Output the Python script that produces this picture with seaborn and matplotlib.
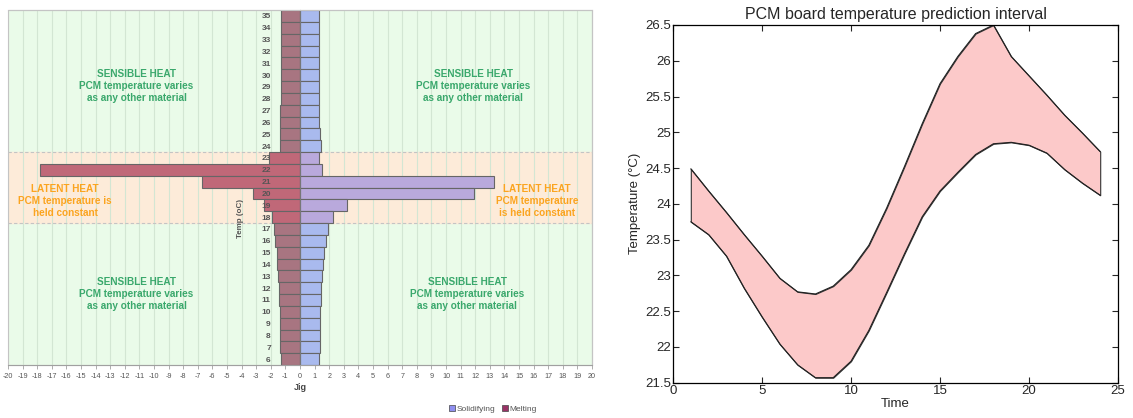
import numpy as np
import pandas as pd
import matplotlib
matplotlib.use("Agg")
import matplotlib.pyplot as plt
from matplotlib.patches import Patch, Rectangle
import seaborn as sns

# ---------------- data ----------------
temps = list(range(35, 5, -1))  # 35 .. 6 (top to bottom)
melting = [-1.33, -1.33, -1.33, -1.33, -1.33, -1.33, -1.33, -1.33,   # 35..28
           -1.38, -1.38, -1.40, -1.40,                               # 27..24
           -2.10, -17.8, -6.7, -3.2, -2.5, -1.9,                     # 23..18
           -1.77, -1.68, -1.60, -1.56, -1.50, -1.47, -1.43, -1.40,   # 17..10
           -1.38, -1.36, -1.36, -1.33]                               # 9..6
solidifying = [1.28, 1.28, 1.28, 1.28, 1.28, 1.28, 1.28, 1.28,       # 35..28
               1.33, 1.33, 1.37, 1.44,                               # 27..24
               1.32, 1.50, 13.3, 11.9, 3.25, 2.25,                   # 23..18
               1.90, 1.76, 1.64, 1.56, 1.50, 1.44, 1.42, 1.39,       # 17..10
               1.37, 1.35, 1.35, 1.33]                               # 9..6
latent_low, latent_high = 18, 23

time = list(range(1, 25))
upper = [24.49, 24.18, 23.88, 23.57, 23.27, 22.96, 22.77, 22.74, 22.85, 23.08,
         23.42, 23.94, 24.52, 25.12, 25.68, 26.06, 26.38, 26.50, 26.06, 25.79,
         25.52, 25.24, 24.99, 24.73]
lower = [23.75, 23.57, 23.27, 22.82, 22.42, 22.04, 21.75, 21.57, 21.57, 21.80,
         22.23, 22.76, 23.30, 23.82, 24.18, 24.44, 24.69, 24.84, 24.86, 24.82,
         24.71, 24.48, 24.29, 24.12]

# ---------------- style ----------------
sns.set_style("white")
plt.rcParams["font.family"] = ["Liberation Sans", "DejaVu Sans"]

fig = plt.figure(figsize=(11.33, 4.18), dpi=100)

# ---------------- left panel ----------------
axL = fig.add_axes([8 / 1133, 53 / 418, 584 / 1133, 355 / 418])
order = [str(t) for t in temps]
df_m = pd.DataFrame({"Temp": order, "Value": melting})
df_s = pd.DataFrame({"Temp": order, "Value": solidifying})

melt_c, melt_lat = "#a87581", "#c06878"
sol_c, sol_lat = "#a9baee", "#b9a9dc"

sns.barplot(data=df_m, x="Value", y="Temp", order=order, orient="h",
            color=melt_c, width=1.0, edgecolor="#666666", linewidth=0.8,
            saturation=1, ax=axL, zorder=2)
sns.barplot(data=df_s, x="Value", y="Temp", order=order, orient="h",
            color=sol_c, width=1.0, edgecolor="#666666", linewidth=0.8,
            saturation=1, ax=axL, zorder=2)

for cont, latc in zip(axL.containers, [melt_lat, sol_lat]):
    for t, bar in zip(temps, cont):
        if latent_low <= t <= latent_high:
            bar.set_facecolor(latc)

def ypos(t):
    return temps[0] - t

axL.set_facecolor("#eafbe9")
axL.axhspan(ypos(latent_high) - 0.5, ypos(latent_low) + 0.5,
            color="#fdebd9", zorder=0)
for yy in (ypos(latent_high) - 0.5, ypos(latent_low) + 0.5):
    axL.axhline(yy, color="#c4c4c4", lw=0.8, ls=(0, (3, 2)), zorder=0.6)

axL.set_xlim(-20, 20)
axL.set_ylim(len(temps) - 0.5, -0.5)
axL.set_xticks(np.arange(-20, 21, 1))
axL.set_xticklabels([str(v) for v in range(-20, 21)])
axL.grid(axis="x", color="#d3e6d3", lw=0.8)
axL.set_axisbelow(True)
axL.yaxis.set_zorder(5)

for s in ["top", "right", "bottom"]:
    axL.spines[s].set_visible(True)
    axL.spines[s].set_color("#c4c4c4")
    axL.spines[s].set_linewidth(0.8)
axL.spines["bottom"].set_color("#a0a0a0")
axL.spines["left"].set_position(("data", 0))
axL.spines["left"].set_color("#777777")
axL.spines["left"].set_linewidth(0.8)
axL.add_patch(Rectangle((0, 0), 1, 1, transform=axL.transAxes, fill=False,
                        ec="#c4c4c4", lw=0.8, clip_on=False, zorder=0.7))

axL.tick_params(axis="y", length=0, pad=21, labelsize=6, labelcolor="#555555")
axL.tick_params(axis="x", length=3, width=0.6, color="#a0a0a0", pad=3,
                labelsize=5.2, labelcolor="#555555", bottom=True)
for lab in axL.get_yticklabels():
    lab.set_fontweight("bold")
axL.set_xlabel("Jig", fontsize=6.5, color="#444444", fontweight="bold", labelpad=2)
axL.set_ylabel("Temp (oC)", fontsize=5.8, color="#555555", fontweight="bold")
axL.yaxis.set_label_coords(0.404, 0.414)

green = "#3aa86c"
orange = "#fba41f"
sens_txt = "SENSIBLE HEAT\nPCM temperature varies\nas any other material"
kw = dict(ha="center", va="center", fontsize=7.2, fontweight="bold",
          linespacing=1.25, zorder=5)
axL.text(-11.2, ypos(29.1), sens_txt, color=green, **kw)
axL.text(11.85, ypos(29.1), sens_txt, color=green, **kw)
axL.text(-11.2, ypos(11.5), sens_txt, color=green, **kw)
axL.text(11.45, ypos(11.5), sens_txt, color=green, **kw)
axL.text(-16.1, ypos(19.32), "LATENT HEAT\nPCM temperature is\nheld constant",
         color=orange, **kw)
axL.text(16.25, ypos(19.32), "LATENT HEAT\nPCM temperature\nis held constant",
         color=orange, **kw)

handles = [Patch(facecolor="#8f8ff0", edgecolor="#444444", lw=0.5, label="Solidifying"),
           Patch(facecolor="#993366", edgecolor="#444444", lw=0.5, label="Melting")]
fig.legend(handles=handles, loc="center", bbox_to_anchor=(0.435, 0.022),
           ncol=2, frameon=False, fontsize=6, handlelength=0.7, handleheight=0.7,
           handletextpad=0.2, columnspacing=0.8, labelcolor="#555555")

# ---------------- right panel ----------------
axR = fig.add_axes([673 / 1133, 35.3 / 418, 445 / 1133, 357.7 / 418])
df_r = pd.DataFrame({"Time": time, "upper": upper, "lower": lower})
axR.fill_between(df_r["Time"], df_r["lower"], df_r["upper"],
                 facecolor="#fcc9c9", edgecolor="#333333", linewidth=0.8)
sns.lineplot(data=df_r, x="Time", y="upper", color="#222222", lw=0.8, ax=axR)
sns.lineplot(data=df_r, x="Time", y="lower", color="#222222", lw=0.8, ax=axR)

axR.set_xlim(0, 25)
axR.set_ylim(21.5, 26.5)
axR.set_xticks([0, 5, 10, 15, 20, 25])
axR.set_yticks(np.arange(21.5, 26.51, 0.5))
axR.set_yticklabels(["21.5", "22", "22.5", "23", "23.5", "24", "24.5",
                     "25", "25.5", "26", "26.5"])
for s in axR.spines.values():
    s.set_visible(True)
    s.set_color("black")
    s.set_linewidth(0.9)
axR.tick_params(direction="in", length=4, width=0.8, top=True, right=True,
                bottom=True, left=True, labelsize=9.5, pad=1.5)
axR.set_title("PCM board temperature prediction interval", fontsize=11.5, pad=4)
axR.set_xlabel("Time", fontsize=9.5, labelpad=1)
axR.set_ylabel("Temperature (\u00b0C)", fontsize=9.5, labelpad=3)

fig.savefig("out.png", dpi=100)
